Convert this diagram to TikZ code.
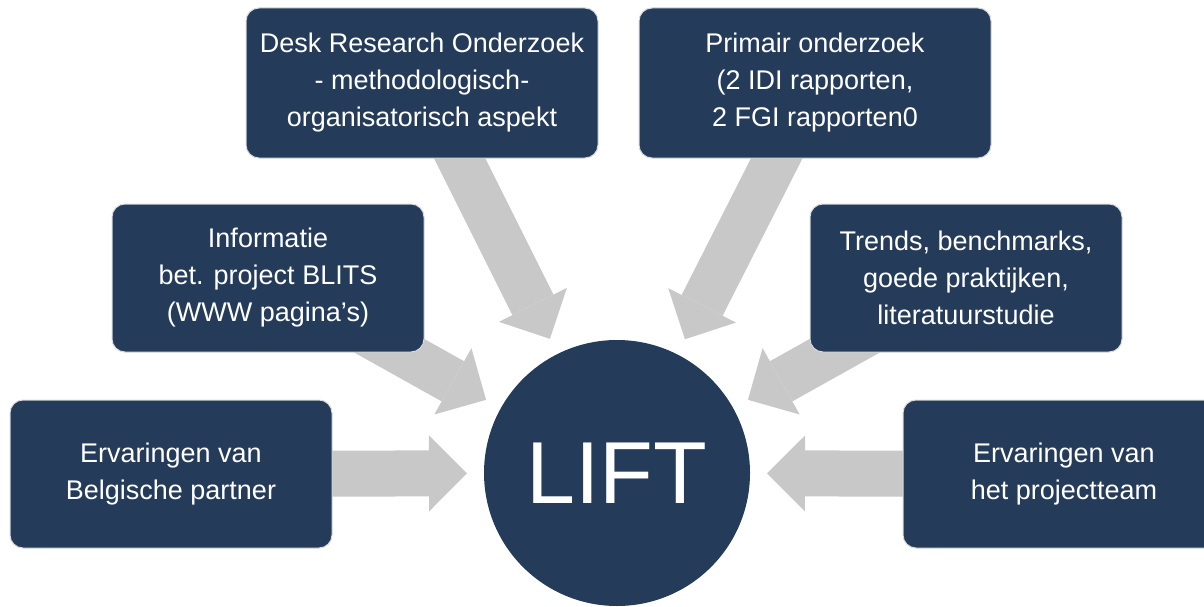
\documentclass[tikz,border=0pt]{standalone}
\usepackage{fontspec}
\setmainfont{Liberation Sans}
\usetikzlibrary{arrows.meta,positioning,backgrounds}

\definecolor{navy}{RGB}{36,60,90}
\definecolor{arrowgray}{RGB}{200,200,200}

\tikzset{
  source/.style={rectangle, rounded corners=13pt, fill=navy, draw=white!85!black,
    line width=1pt, text=white, align=center, inner sep=0pt,
    font=\fontsize{27}{37}\selectfont},
  wide/.style={minimum width=352pt, minimum height=150pt},
  mid/.style={minimum width=312pt, minimum height=148pt},
  low/.style={minimum width=322pt, minimum height=148pt},
  feed/.style={draw=arrowgray, line width=46pt,
    -{Triangle[width=76pt,length=38pt,line width=0pt]}, shorten >=150pt},
}

\begin{document}
\begin{tikzpicture}[x=1pt,y=-1pt]

  \useasboundingbox (0,0) rectangle (1204,607);
  \clip (0,0) rectangle (1204,607);

  % Define nodes
  \node[circle, fill=navy, minimum size=266pt, text=white,
        font=\fontsize{88}{88}\selectfont] (lift) at (617,473) {LIFT};

  \node[source, wide] (desk)    at (422,83)  {Desk Research Onderzoek\\- methodologisch-\\organisatorisch aspekt};
  \node[source, wide, right=40pt of desk] (primair) {Primair onderzoek\\(2 IDI rapporten,\\2 FGI rapporten0};
  \node[source, mid]  (info)    at (268,278) {Informatie\\bet. project BLITS\\(WWW pagina’s)};
  \node[source, mid]  (trends)  at (966,278) {Trends, benchmarks,\\goede praktijken,\\literatuurstudie};
  \node[source, low]  (belg)    at (171,474) {Ervaringen van\\Belgische partner};
  \node[source, low]  (team)    at (1064,474) {Ervaringen van\\het projectteam};

  % Connect the nodes
  \begin{scope}[on background layer]
    \foreach \src in {desk, primair, info, trends, belg, team}
      \draw[feed] (\src.center) -- (lift.center);
  \end{scope}

\end{tikzpicture}
\end{document}
